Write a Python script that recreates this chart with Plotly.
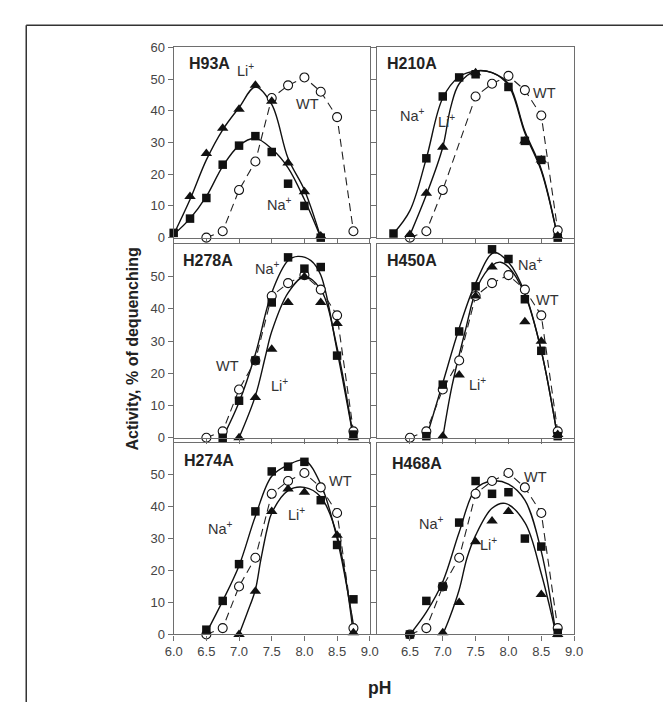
import plotly.graph_objects as go

# ---------------- data ----------------
PH_TICKS_LEFT = [6.0, 6.5, 7.0, 7.5, 8.0, 8.5, 9.0]
PH_TEXT_LEFT = ["6.0", "6.5", "7.0", "7.5", "8.0", "8.5", "9.0"]
PH_TICKS_RIGHT = [6.5, 7.0, 7.5, 8.0, 8.5, 9.0]
PH_TEXT_RIGHT = ["6.5", "7.0", "7.5", "8.0", "8.5", "9.0"]
ACT_TICKS_TOP = [0, 10, 20, 30, 40, 50, 60]
ACT_TEXT_TOP = ["0", "10", "20", "30", "40", "50", "60"]
ACT_TICKS_LOW = [0, 10, 20, 30, 40, 50]
ACT_TEXT_LOW = ["0", "10", "20", "30", "40", "50"]

PANELS = ["H93A", "H210A", "H278A", "H450A", "H274A", "H468A"]

# wild type (dashed, open circles)
WT_PH = [6.5, 6.75, 7.0, 7.25, 7.5, 7.75, 8.0, 8.25, 8.5, 8.75]
WT_ACT = [0, 2, 15, 24, 44, 48, 50.5, 46, 38, 2]
WT210_PH = [6.5, 6.75, 7.0, 7.5, 7.75, 8.0, 8.25, 8.5, 8.75]
WT210_ACT = [0, 2, 15, 44.5, 48.5, 51, 46.5, 38.5, 2.3]

# H93A
H93A_NA_PH = [6.0, 6.25, 6.5, 6.75, 7.0, 7.25, 7.5, 7.75, 8.0, 8.25]
H93A_NA_ACT = [1.5, 6, 12.5, 23, 29, 32, 27, 17, 10, 0]
H93A_LI_PH = [6.25, 6.5, 6.75, 7.0, 7.25, 7.5, 7.75, 8.0, 8.25]
H93A_LI_ACT = [13, 26.5, 34.5, 40.5, 48, 43, 23.5, 14.5, 0.5]
H93A_NA_FIT_PH = [6.0, 6.25, 6.5, 6.75, 7.0, 7.25, 7.5, 7.75, 8.0, 8.25]
H93A_NA_FIT = [1, 6, 13, 22.5, 29, 31.3, 28, 22, 12, 0]
H93A_LI_FIT_PH = [6.0, 6.25, 6.5, 6.75, 7.0, 7.25, 7.5, 7.75, 8.0, 8.25]
H93A_LI_FIT = [1, 12, 24.5, 34, 41, 47.5, 42, 25, 15, 0]

# H210A
H210A_NA_PH = [6.25, 6.75, 7.0, 7.25, 7.5, 8.0, 8.25, 8.5, 8.75]
H210A_NA_ACT = [1.3, 25, 44.5, 50.5, 51.5, 47.5, 30.5, 24.5, 0]
H210A_LI_PH = [6.5, 6.75, 7.0, 7.5, 8.25, 8.5, 8.75]
H210A_LI_ACT = [1, 14, 28.5, 52, 30.5, 24.5, 0.5]
H210A_NA_FIT_PH = [6.25, 6.5, 6.75, 7.0, 7.25, 7.5, 7.75, 8.0, 8.25, 8.5, 8.75]
H210A_NA_FIT = [1.3, 8.5, 25, 44, 50.7, 52.5, 52, 48, 33, 21, 0]
H210A_LI_FIT_PH = [6.5, 6.75, 7.0, 7.12, 7.25, 7.5, 7.75, 8.0, 8.25, 8.5, 8.75]
H210A_LI_FIT = [0.8, 13.5, 28.5, 41, 48.5, 52.5, 52, 48.5, 33.5, 21.5, 0]

# H278A
H278A_NA_PH = [6.75, 7.0, 7.25, 7.5, 7.75, 8.0, 8.25, 8.5, 8.75]
H278A_NA_ACT = [0, 11.5, 24, 42, 56, 52.5, 53, 25.5, 1]
H278A_LI_PH = [7.0, 7.25, 7.5, 7.75, 8.0, 8.25, 8.5, 8.75]
H278A_LI_ACT = [0, 12.5, 27.5, 42, 50, 42, 35.5, 0]
H278A_NA_FIT_PH = [6.75, 7.0, 7.25, 7.5, 7.75, 7.9, 8.1, 8.25, 8.5, 8.75]
H278A_NA_FIT = [0, 11, 26, 45, 55, 56.3, 55, 50.5, 27, 0]
H278A_LI_FIT_PH = [7.0, 7.25, 7.4, 7.5, 7.75, 8.0, 8.25, 8.5, 8.75]
H278A_LI_FIT = [0, 13, 25, 33, 45, 50, 46, 28, 0]

# H450A
H450A_NA_PH = [6.75, 7.0, 7.25, 7.5, 7.75, 8.0, 8.25, 8.5, 8.75]
H450A_NA_ACT = [0.5, 16.5, 33, 47, 58.5, 55.5, 43, 27, 0.5]
H450A_LI_PH = [7.0, 7.25, 7.5, 7.75, 8.25, 8.5, 8.75]
H450A_LI_ACT = [0.5, 19.5, 44, 53, 36, 30, 1]
H450A_NA_FIT_PH = [6.75, 7.0, 7.25, 7.5, 7.78, 8.0, 8.25, 8.5, 8.75]
H450A_NA_FIT = [0, 17, 34, 48, 57.5, 54.5, 45, 27, 0]
H450A_LI_FIT_PH = [7.0, 7.14, 7.34, 7.53, 7.75, 7.88, 8.0, 8.25, 8.5, 8.75]
H450A_LI_FIT = [0, 16, 33, 47, 53.5, 54.5, 53, 44.5, 27, 0]

# H274A
H274A_NA_PH = [6.5, 6.75, 7.0, 7.25, 7.5, 7.75, 8.0, 8.25, 8.5, 8.75]
H274A_NA_ACT = [1.5, 10.5, 22, 38.5, 51, 52.5, 54, 42, 28, 11]
H274A_LI_PH = [7.0, 7.25, 7.5, 7.75, 8.0, 8.5, 8.75]
H274A_LI_ACT = [0, 13.5, 38.5, 45.5, 44.5, 31, 0.5]
H274A_NA_FIT_PH = [6.5, 6.75, 7.0, 7.25, 7.5, 7.75, 8.0, 8.25, 8.5, 8.75]
H274A_NA_FIT = [0.5, 10.5, 21.5, 37, 49.5, 53, 54.5, 47, 30, 3]
H274A_LI_FIT_PH = [7.0, 7.13, 7.25, 7.33, 7.43, 7.5, 7.75, 8.0, 8.25, 8.5, 8.75]
H274A_LI_FIT = [0, 7, 14, 23, 33, 38, 45, 46, 43, 31, 0]

# H468A
H468A_NA_PH = [6.5, 6.75, 7.0, 7.25, 7.5, 7.75, 8.0, 8.25, 8.5, 8.75]
H468A_NA_ACT = [0, 10.5, 15, 35, 48, 44, 44.5, 30, 27.5, 0.5]
H468A_LI_PH = [7.0, 7.25, 7.5, 7.75, 8.0, 8.5, 8.75]
H468A_LI_ACT = [0.5, 10, 29, 35.5, 38.5, 12.5, 0]
H468A_NA_FIT_PH = [6.5, 6.75, 7.0, 7.25, 7.5, 7.75, 8.0, 8.25, 8.5, 8.72]
H468A_NA_FIT = [0, 7, 16.5, 32, 45.5, 48, 47, 42, 26, 0.5]
H468A_LI_FIT_PH = [7.0, 7.1, 7.25, 7.37, 7.5, 7.75, 7.95, 8.25, 8.5, 8.72]
H468A_LI_FIT = [0, 5, 14, 24, 31, 39.5, 41, 35, 19, 0.5]

# label positions (data coordinates) per panel
LABEL_POS = {
    "H93A": {"title": (6.21, 54.8), "Li": (7.10, 52.8), "Na": (7.62, 10.5), "WT": (8.05, 42.0)},
    "H210A": {"title": (6.12, 54.8), "Na": (6.54, 38.8), "Li": (7.05, 36.8), "WT": (8.55, 45.6)},
    "H278A": {"title": (6.11, 55.1), "Na": (7.43, 52.8), "WT": (6.83, 22.2), "Li": (7.62, 16.5)},
    "H450A": {"title": (6.12, 55.1), "Na": (8.34, 53.8), "WT": (8.60, 42.8), "Li": (7.53, 16.7)},
    "H274A": {"title": (6.12, 54.4), "Na": (6.71, 33.2), "WT": (8.55, 47.9), "Li": (7.88, 37.8)},
    "H468A": {"title": (6.19, 53.4), "WT": (8.41, 49.4), "Na": (6.83, 34.8), "Li": (7.70, 28.2)},
}

DATA = {
    "H93A": (WT_PH, WT_ACT, H93A_NA_PH, H93A_NA_ACT, H93A_LI_PH, H93A_LI_ACT,
             H93A_NA_FIT_PH, H93A_NA_FIT, H93A_LI_FIT_PH, H93A_LI_FIT),
    "H210A": (WT210_PH, WT210_ACT, H210A_NA_PH, H210A_NA_ACT, H210A_LI_PH, H210A_LI_ACT,
              H210A_NA_FIT_PH, H210A_NA_FIT, H210A_LI_FIT_PH, H210A_LI_FIT),
    "H278A": (WT_PH, WT_ACT, H278A_NA_PH, H278A_NA_ACT, H278A_LI_PH, H278A_LI_ACT,
              H278A_NA_FIT_PH, H278A_NA_FIT, H278A_LI_FIT_PH, H278A_LI_FIT),
    "H450A": (WT_PH, WT_ACT, H450A_NA_PH, H450A_NA_ACT, H450A_LI_PH, H450A_LI_ACT,
              H450A_NA_FIT_PH, H450A_NA_FIT, H450A_LI_FIT_PH, H450A_LI_FIT),
    "H274A": (WT_PH, WT_ACT, H274A_NA_PH, H274A_NA_ACT, H274A_LI_PH, H274A_LI_ACT,
              H274A_NA_FIT_PH, H274A_NA_FIT, H274A_LI_FIT_PH, H274A_LI_FIT),
    "H468A": (WT_PH, WT_ACT, H468A_NA_PH, H468A_NA_ACT, H468A_LI_PH, H468A_LI_ACT,
              H468A_NA_FIT_PH, H468A_NA_FIT, H468A_LI_FIT_PH, H468A_LI_FIT),
}

# ---------------- layout geometry ----------------
W, H = 671, 702
COL_DOM = [[161 / W, 362.5 / W], [370 / W, 572.5 / W]]
ROW_DOM = [[1 - 227.5 / H, 1 - 33 / H], [1 - 432 / H, 1 - 234.5 / H], [1 - 633 / H, 1 - 437 / H]]

FONT = "Arial, Liberation Sans, Helvetica, sans-serif"
INK = "#111111"
AXC = "#6e6e6e"
TXT = "#333333"

fig = go.Figure()
layout = dict(
    width=W, height=H, margin=dict(l=0, r=0, t=0, b=0),
    paper_bgcolor="white", plot_bgcolor="white", showlegend=False,
    font=dict(family=FONT, color=TXT),
)
annotations = []

for i, name in enumerate(PANELS):
    r, c = divmod(i, 2)
    idx = i + 1
    xs = "x" if idx == 1 else f"x{idx}"
    ys = "y" if idx == 1 else f"y{idx}"
    xk = "xaxis" if idx == 1 else f"xaxis{idx}"
    yk = "yaxis" if idx == 1 else f"yaxis{idx}"

    xt_vals = PH_TICKS_LEFT if c == 0 else PH_TICKS_RIGHT
    xt_text = PH_TEXT_LEFT if c == 0 else PH_TEXT_RIGHT
    layout[xk] = dict(
        domain=COL_DOM[c], anchor=ys, range=[6.0, 9.0],
        tickvals=xt_vals, ticktext=xt_text, showticklabels=(r == 2),
        ticks="outside", ticklen=5, tickwidth=1, tickcolor=AXC,
        showline=True, linecolor=AXC, linewidth=1.3, mirror=True,
        showgrid=False, zeroline=False,
        tickfont=dict(size=13, color="#444444", family=FONT),
    )
    yt_vals = ACT_TICKS_TOP if r == 0 else ACT_TICKS_LOW
    yt_text = ACT_TEXT_TOP if r == 0 else ACT_TEXT_LOW
    layout[yk] = dict(
        domain=ROW_DOM[r], anchor=xs, range=[0, 60],
        tickvals=yt_vals, ticktext=yt_text, showticklabels=(c == 0),
        ticks="outside", ticklen=5, tickwidth=1, tickcolor=AXC,
        showline=True, linecolor=AXC, linewidth=1.3, mirror=True,
        showgrid=False, zeroline=False,
        tickfont=dict(size=13, color="#444444", family=FONT),
    )

    (wt_x, wt_y, na_x, na_y, li_x, li_y,
     naf_x, naf_y, lif_x, lif_y) = DATA[name]

    # fitted solid curves
    for fx, fy in ((naf_x, naf_y), (lif_x, lif_y)):
        fig.add_trace(go.Scatter(
            x=fx, y=fy, mode="lines", xaxis=xs, yaxis=ys,
            line=dict(color=INK, width=1.4, shape="spline", smoothing=1.0),
            hoverinfo="skip"))
    # WT dashed line
    fig.add_trace(go.Scatter(
        x=wt_x, y=wt_y, mode="lines", xaxis=xs, yaxis=ys,
        line=dict(color="#222222", width=1.1, dash="8px,5px"),
        hoverinfo="skip"))
    # WT circles
    fig.add_trace(go.Scatter(
        x=wt_x, y=wt_y, mode="markers", xaxis=xs, yaxis=ys, cliponaxis=False,
        marker=dict(symbol="circle", size=9, color="white",
                    line=dict(color=INK, width=1.1))))
    # Na+ squares
    fig.add_trace(go.Scatter(
        x=na_x, y=na_y, mode="markers", xaxis=xs, yaxis=ys, cliponaxis=False,
        marker=dict(symbol="square", size=8.5, color=INK, line=dict(width=0))))
    # Li+ triangles
    fig.add_trace(go.Scatter(
        x=li_x, y=li_y, mode="markers", xaxis=xs, yaxis=ys, cliponaxis=False,
        marker=dict(symbol="triangle-up", size=10, color=INK, line=dict(width=0))))

    pos = LABEL_POS[name]
    tx, ty = pos["title"]
    annotations.append(dict(
        x=tx, y=ty, xref=xs, yref=ys, text=f"<b>{name}</b>", showarrow=False,
        xanchor="left", yanchor="middle", font=dict(size=16, color="#222222", family=FONT)))
    for key, txt in (("Na", "Na<sup>+</sup>"), ("Li", "Li<sup>+</sup>"), ("WT", "WT")):
        lx, ly = pos[key]
        annotations.append(dict(
            x=lx, y=ly, xref=xs, yref=ys, text=txt, showarrow=False,
            xanchor="center", yanchor="middle", font=dict(size=14.5, color=TXT, family=FONT)))

# axis titles
annotations.append(dict(
    x=119 / W, y=1 - 341 / H, xref="paper", yref="paper",
    text="<b>Activity, % of dequenching</b>", showarrow=False, textangle=-90,
    xanchor="center", yanchor="middle", font=dict(size=16, color="#222222", family=FONT)))
annotations.append(dict(
    x=372 / W, y=1 - 688 / H, xref="paper", yref="paper",
    text="<b>pH</b>", showarrow=False,
    xanchor="center", yanchor="middle", font=dict(size=17.5, color="#222222", family=FONT)))

layout["annotations"] = annotations
# outer frame (top and left edges visible)
layout["shapes"] = [
    dict(type="line", xref="paper", yref="paper", x0=9.5 / W, x1=1.02,
         y0=1 - 10.5 / H, y1=1 - 10.5 / H, line=dict(color="#333333", width=1.5)),
    dict(type="line", xref="paper", yref="paper", x0=9.5 / W, x1=9.5 / W,
         y0=1 - 10.5 / H, y1=-0.02, line=dict(color="#333333", width=1.5)),
]

fig.update_layout(**layout)
fig.write_html("out.html")
